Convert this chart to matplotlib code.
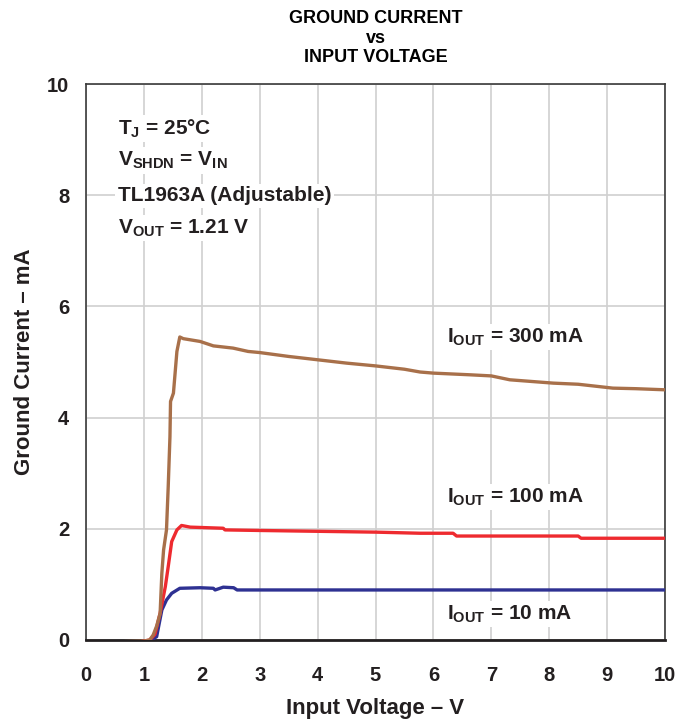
import matplotlib
matplotlib.use('Agg')
import matplotlib.pyplot as plt

plt.rcParams['font.family'] = ['Liberation Sans', 'DejaVu Sans']
plt.rcParams['font.weight'] = 'bold'
plt.rcParams['mathtext.fontset'] = 'custom'
plt.rcParams['mathtext.bf'] = 'Liberation Sans:bold'
plt.rcParams['mathtext.rm'] = 'Liberation Sans:bold'

# I_OUT = 300 mA
x_300 = [0.64, 1.0, 1.1, 1.16, 1.22, 1.28, 1.31, 1.34, 1.39, 1.42, 1.45, 1.46, 1.51, 1.57,
         1.62, 1.68, 1.97, 2.2, 2.54, 2.8, 3.0, 3.5, 4.0, 4.5, 5.0, 5.5, 5.77, 6.0, 6.63,
         7.0, 7.32, 8.07, 8.5, 9.1, 9.5, 10.0]
y_300 = [-0.03, -0.02, 0.0, 0.09, 0.25, 0.48, 1.2, 1.62, 1.98, 2.76, 3.66, 4.29, 4.44, 5.19,
         5.45, 5.42, 5.37, 5.29, 5.25, 5.19, 5.17, 5.10, 5.04, 4.98, 4.93, 4.87, 4.82, 4.80, 4.77,
         4.75, 4.68, 4.62, 4.60, 4.53, 4.52, 4.50]

# I_OUT = 100 mA
x_100 = [0.99, 1.1, 1.19, 1.28, 1.37, 1.42, 1.48, 1.57, 1.65, 1.8, 2.37, 2.4, 3.0, 5.0,
         5.77, 6.34, 6.4, 8.5, 8.55, 10.0]
y_100 = [-0.02, 0.0, 0.1, 0.48, 0.96, 1.32, 1.77, 1.98, 2.06, 2.03, 2.01, 1.98, 1.97, 1.94,
         1.92, 1.92, 1.87, 1.87, 1.83, 1.83]

# I_OUT = 10 mA
x_10 = [1.1, 1.22, 1.31, 1.39, 1.48, 1.62, 1.97, 2.2, 2.23, 2.37, 2.55, 2.61, 10.0]
y_10 = [-0.02, 0.06, 0.54, 0.72, 0.84, 0.93, 0.94, 0.93, 0.9, 0.95, 0.94, 0.9, 0.9]

xticks = list(range(0, 11))
yticks = [0, 2, 4, 6, 8, 10]

txt = '#231F20'
fig = plt.figure(figsize=(6.88, 7.23), dpi=100)
ax = fig.add_axes([0.125, 0.1148, 0.8416, 0.769])

ax.plot(x_10, y_10, color='#2E3192', lw=2.4, zorder=3)
ax.plot(x_100, y_100, color='#EE2A2F', lw=2.4, zorder=4)
ax.plot(x_300, y_300, color='#A8704A', lw=2.4, zorder=5)

ax.set_xlim(0, 10)
ax.set_ylim(0, 10)
ax.set_xticks(xticks)
ax.set_yticks(yticks)
ax.tick_params(length=0, labelsize=14.5, labelcolor=txt)
ax.tick_params(axis='x', pad=19)
ax.tick_params(axis='y', pad=12)
ax.grid(True, color='#D0D0D0', lw=1.2, zorder=0)
for s in ax.spines.values():
    s.set_color('#3a3a3a')
    s.set_linewidth(1.2)
ax.spines['bottom'].set_color('#231F20')
ax.spines['bottom'].set_linewidth(2)

ax.set_xlabel('Input Voltage – V', fontsize=16, fontweight='bold', color=txt, labelpad=9)
ax.set_ylabel('Ground Current – mA', fontsize=16, fontweight='bold', color=txt, labelpad=9)
ax.set_title('GROUND CURRENT\nvs\nINPUT VOLTAGE', fontsize=13, fontweight='bold',
             color='black', linespacing=1.2, pad=15.5)

box = dict(facecolor='white', edgecolor='none', pad=2)
notes = [(9.2, r'$\mathbf{T_J}$ = 25°C'),
         (8.63, r'$\mathbf{V_{SHDN}}$ = $\mathbf{V_{IN}}$'),
         (7.99, 'TL1963A (Adjustable)'),
         (7.41, r'$\mathbf{V_{OUT}}$ = 1.21 V')]
for yv, s in notes:
    ax.text(0.55, yv, s, fontsize=15, color=txt, va='center', ha='left', bbox=box, zorder=6)

labels = [(5.45, r'$\mathbf{I_{OUT}}$ = 300 mA'),
          (2.57, r'$\mathbf{I_{OUT}}$ = 100 mA'),
          (0.47, r'$\mathbf{I_{OUT}}$ = 10 mA')]
for yv, s in labels:
    ax.text(6.23, yv, s, fontsize=15, color=txt, va='center', ha='left', bbox=box, zorder=6)

fig.savefig('out.png', dpi=100)
